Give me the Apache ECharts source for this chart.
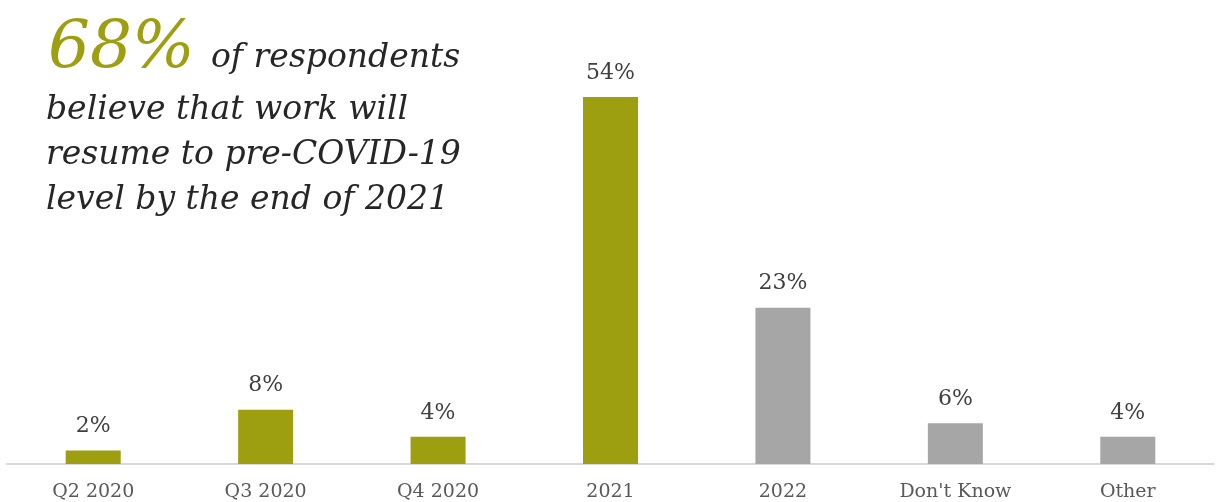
<!DOCTYPE html>
<html>
<head>
<meta charset="utf-8">
<script src="https://cdn.jsdelivr.net/npm/echarts@6/dist/echarts.min.js"></script>
<style>
  html, body { margin: 0; padding: 0; background: #ffffff; }
  #chart { width: 1216px; height: 502px; }
</style>
</head>
<body>
<div id="chart"></div>
<script>
// Expected timing of return to pre-COVID-19 work levels
const categories = ['Q2 2020', 'Q3 2020', 'Q4 2020', '2021', '2022', "Don't Know", 'Other'];
const shares = [2, 8, 4, 54, 23, 6, 4];
// Periods up to the end of 2021 are highlighted
const highlighted = [true, true, true, true, false, false, false];

const headlineValue = '68%';
const headlineLines = ['of respondents', 'believe that work will', 'resume to pre-COVID-19', 'level by the end of 2021'];

const OLIVE = '#9d9e10';
const GREY = '#a6a6a6';
const SERIF = '"DejaVu Serif", Georgia, serif';

const chart = echarts.init(document.getElementById('chart'), null, { renderer: 'canvas' });

const barData = shares.map((v, i) => ({
  value: v,
  itemStyle: { color: highlighted[i] ? OLIVE : GREY }
}));

const bodyFont = 'italic 33px ' + SERIF;

chart.setOption({
  animation: false,
  backgroundColor: '#ffffff',
  grid: { left: 7, right: 2, top: 97, bottom: 37, containLabel: false },
  xAxis: {
    type: 'category',
    data: categories,
    axisLine: { show: true, lineStyle: { color: '#d9d9d9', width: 2 } },
    axisTick: { show: false },
    axisLabel: { color: '#595959', fontFamily: SERIF, fontSize: 19, margin: 19 }
  },
  yAxis: {
    type: 'value',
    min: 0,
    max: 54,
    show: false,
    splitLine: { show: false }
  },
  series: [{
    type: 'bar',
    data: barData,
    barWidth: 55,
    label: {
      show: true,
      position: 'top',
      distance: 13,
      formatter: p => p.value + '%',
      color: '#404040',
      fontFamily: SERIF,
      fontSize: 22
    }
  }],
  graphic: [
    {
      type: 'text', left: 48, top: 17,
      style: { text: headlineValue, fill: OLIVE, font: 'italic 66px ' + SERIF }
    },
    {
      type: 'text', left: 211, top: 42,
      style: { text: headlineLines[0], fill: '#262626', font: bodyFont }
    },
    {
      type: 'text', left: 46, top: 94,
      style: { text: headlineLines[1], fill: '#262626', font: bodyFont }
    },
    {
      type: 'text', left: 46, top: 139,
      style: { text: headlineLines[2], fill: '#262626', font: bodyFont }
    },
    {
      type: 'text', left: 46, top: 184,
      style: { text: headlineLines[3], fill: '#262626', font: bodyFont }
    }
  ]
});
</script>
</body>
</html>
